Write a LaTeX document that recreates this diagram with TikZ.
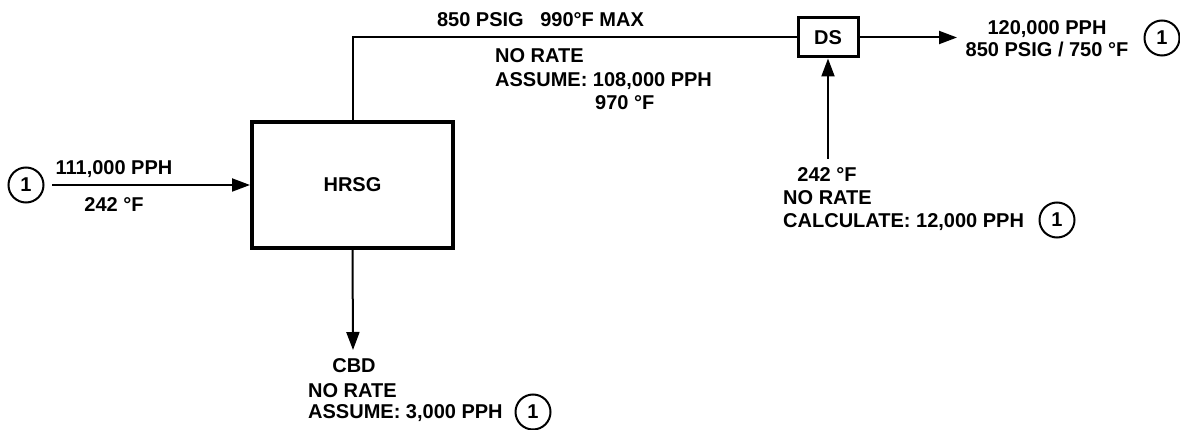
\documentclass[tikz,border=0pt]{standalone}
\usepackage{fontspec}
\setmainfont{Liberation Sans}
\usepackage{tikz}
\usetikzlibrary{arrows.meta, positioning, calc}
\tikzset{
  lbl/.style={inner sep=0pt, font=\fontsize{20}{24}\selectfont\bfseries},
  unitbox/.style={draw, line width=4pt, font=\fontsize{20}{24}\selectfont\bfseries},
  tag/.style={draw, circle, line width=2pt, minimum size=35pt, inner sep=0pt,
              font=\fontsize{20}{24}\selectfont\bfseries},
  flow/.style={line width=2pt, -{Triangle[length=18pt, width=13pt]}},
  pipe/.style={line width=2pt}
}

\begin{document}
\begin{tikzpicture}[x=1pt, y=-1pt]
  \useasboundingbox (0,0) rectangle (1180,430);

  \node[unitbox, minimum width=201pt, minimum height=126pt] (hrsg) at (352.5,185) {HRSG};
  \node[unitbox, line width=3pt, minimum width=60pt, minimum height=39pt] (ds) at (828,37.5) {DS};

  \node[tag] (tagfeed) at (26,185) {1};
  \node[lbl, anchor=base] (feedrate) at (114,174.5) {111,000 PPH};
  \node[lbl, anchor=base] (feedtemp) at (114,212) {242 °F};
  \coordinate (feedin) at (52,185);
  \draw[flow] (feedin) -- (hrsg.west);

  \draw[pipe] (hrsg.north) |- (ds.west);
  \node[lbl, anchor=base] (hpsteam) at (540.5,27) {850 PSIG\hspace{11pt} 990°F MAX};
  \node[lbl, anchor=base west] (hprate) at (495,63) {NO RATE};
  \node[lbl, anchor=base west] (hpflow) at (495,87) {ASSUME: 108,000 PPH};
  \node[lbl, anchor=base west] (hptemp) at (595,110) {970 °F};

  \coordinate (steamout) at (957,37.5);
  \draw[flow] (ds.east) -- (steamout);
  \node[lbl, anchor=base] (outrate) at (1047,35) {120,000 PPH};
  \node[lbl, anchor=base] (outcond) at (1047,57) {850 PSIG / 750 °F};
  \node[tag] (tagout) at (1162,38) {1};

  \coordinate (quenchin) at (828,159);
  \draw[flow] (quenchin) -- (ds.south);
  \node[lbl, anchor=base] (quenchtemp) at (827,182) {242 °F};
  \node[lbl, anchor=base west] (quenchrate) at (783,205) {NO RATE};
  \node[lbl, anchor=base west] (quenchflow) at (783,228) {CALCULATE: 12,000 PPH};
  \node[tag] (tagquench) at (1057,220) {1};

  \coordinate (cbdout) at (353,350);
  \draw[flow] (hrsg.south) -- (cbdout);
  \node[lbl, anchor=base] (cbd) at (354,372) {CBD};
  \node[lbl, anchor=base west] (cbdrate) at (308,397) {NO RATE};
  \node[lbl, anchor=base west] (cbdflow) at (308,418) {ASSUME: 3,000 PPH};
  \node[tag] (tagcbd) at (533,412) {1};
\end{tikzpicture}
\end{document}
